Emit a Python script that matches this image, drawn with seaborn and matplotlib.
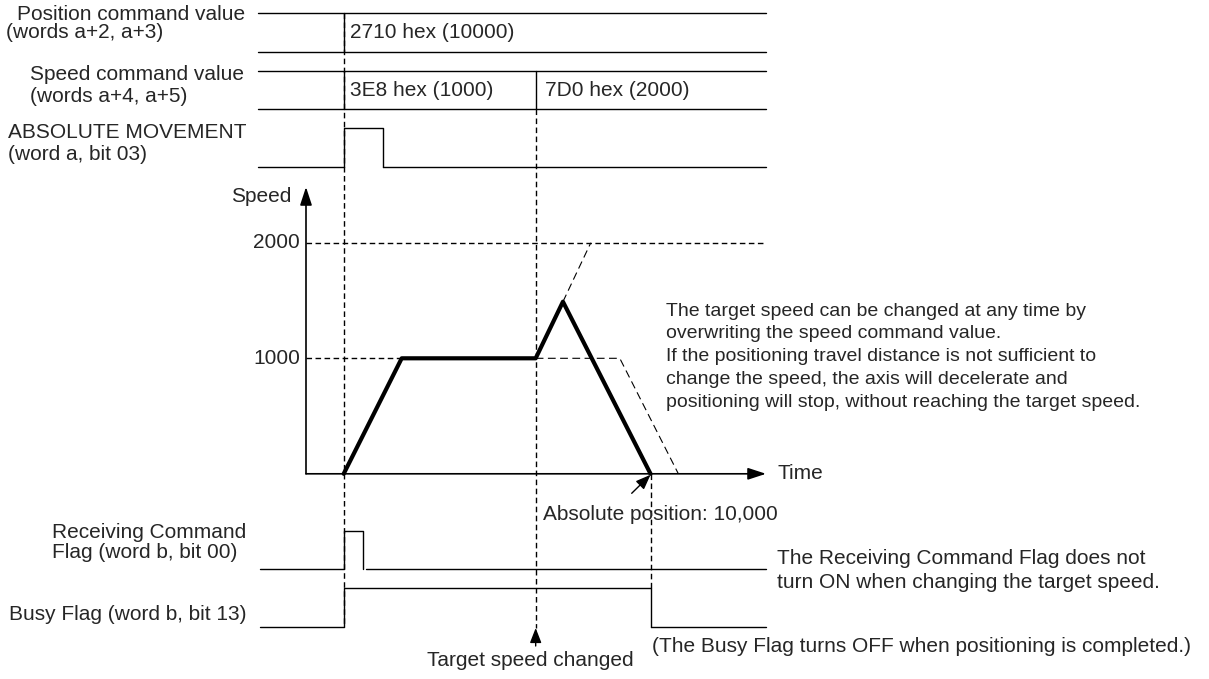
import matplotlib
matplotlib.use("Agg")
import matplotlib.pyplot as plt
import numpy as np
import pandas as pd
import seaborn as sns

# speed profile (time in accel units, speed in pulses/s)
prof_time = [0.0, 1.0, 3.31, 3.78, 5.29]
prof_speed = [0, 1000, 1000, 1490, 0]
# what would have happened: ramp on to 2000, and the plain 1000 run
ext_time = [3.78, 4.26]
ext_speed = [1490, 2000]
old_time = [3.31, 4.76, 5.77]
old_speed = [1000, 1000, 0]
speed_ticks = [1000, 2000]

t_cmd = 0.0        # ABSOLUTE MOVEMENT goes ON
t_change = 3.31    # speed command overwritten
t_done = 5.29      # positioning completed
abs_pulse = 0.67
recv_pulse = 0.34

pos_values = ["2710 hex (10000)"]
spd_values = ["3E8 hex (1000)", "7D0 hex (2000)"]

W, H = 1209, 679
PX_T = 58.0        # pixels per time unit
X0 = 343.7         # pixel of t = 0
PX_S = 115.5       # pixels per 1000 speed
Y0 = 473.8         # pixel of speed 0

sns.set_theme(style="white")
plt.rcParams['font.family'] = ['Liberation Sans', 'DejaVu Sans']

fig = plt.figure(figsize=(W / 100, H / 100), dpi=100)
xlim = (-X0 / PX_T, (W - X0) / PX_T)

# rows axis: x = time, y = pixel row
ax = fig.add_axes([0, 0, 1, 1])
ax.set_xlim(*xlim)
ax.set_ylim(H, 0)
ax.axis("off")

# speed axis: x = time, y = speed
ax_sp = fig.add_axes([0, 0, 1, 1], sharex=ax)
ax_sp.set_ylim(-(H - Y0) / PX_S * 1000, Y0 / PX_S * 1000)
ax_sp.axis("off")
ax_sp.patch.set_alpha(0)

def tx(px):
    return (px - X0) / PX_T

t_left, t_right = tx(258), tx(766)
t_axis = tx(306)
lw = 1.0
dash = (0, (4, 2.5))

# --- bus signals
for top, bot, cuts in [(13.3, 51.7, [t_cmd]), (70.7, 108.7, [t_cmd, t_change])]:
    ax.plot([t_left, t_right], [top, top], color="black", lw=lw)
    ax.plot([t_left, t_right], [bot, bot], color="black", lw=lw)
    for c in cuts:
        ax.plot([c, c], [top, bot], color="black", lw=lw)
ax.text(t_cmd + 0.11, 33, pos_values[0], fontsize=15, va="center")
ax.text(t_cmd + 0.11, 90, spd_values[0], fontsize=15, va="center")
ax.text(t_change + 0.16, 90, spd_values[1], fontsize=15, va="center")

# --- bit signals
def pulse(lo, hi, t_on, t_off, left, right, gap=0.0):
    ax.plot([left, t_on, t_on, t_off, t_off],
            [lo, lo, hi, hi, lo], color="black", lw=lw)
    ax.plot([t_off + gap, right], [lo, lo], color="black", lw=lw)

pulse(166.7, 127.7, t_cmd, t_cmd + abs_pulse, t_left, t_right)
pulse(569.3, 531.0, t_cmd, t_cmd + recv_pulse, tx(260), t_right, gap=0.04)
pulse(626.7, 588.3, t_cmd, t_done, tx(260), t_right)

# --- dashed guides
ax.plot([t_cmd, t_cmd], [13.3, 626.7], color="black", lw=lw, ls=dash, zorder=1)
ax.plot([t_change, t_change], [108.7, 628], color="black", lw=lw, ls=dash, zorder=1)
ax.plot([t_done, t_done], [Y0, 588.3], color="black", lw=lw, ls=dash, zorder=1)
ax_sp.plot([t_axis, t_right], [2000, 2000], color="black", lw=lw, ls=dash)
ax_sp.plot([t_axis, t_change], [1000, 1000], color="black", lw=lw, ls=dash)
ax_sp.plot(ext_time, ext_speed, color="black", lw=0.8, ls=(0, (7, 4)))
ax_sp.plot(old_time, old_speed, color="black", lw=0.8, ls=(0, (7, 4)))

# --- speed profile
sns.lineplot(x=prof_time, y=prof_speed, ax=ax_sp, color="black", lw=3.0,
             estimator=None, sort=False, zorder=5)

# --- speed/time axes
head = dict(arrowstyle="-|>,head_length=1.1,head_width=0.36",
            mutation_scale=10, lw=1.2, color="black", shrinkA=0, shrinkB=0)
ax_sp.annotate("", xy=(tx(766), 0), xytext=(t_axis, 0), arrowprops=head)
ax_sp.annotate("", xy=(t_axis, (Y0 - 187) / PX_S * 1000), xytext=(t_axis, 0),
               arrowprops=head)
for v in speed_ticks:
    ax_sp.text(tx(300), v, str(v), fontsize=15, ha="right", va="center")
ax.text(tx(291), 196, "Speed", fontsize=15, ha="right", va="center")
ax.text(tx(778), Y0, "Time", fontsize=15, va="center")

# --- small arrows
small = dict(arrowstyle="-|>,head_length=0.9,head_width=0.35",
             mutation_scale=10, lw=1.0, color="black", shrinkA=0, shrinkB=0)
ax.annotate("", xy=(t_done, Y0 + 1), xytext=(tx(631.7), 493.3), arrowprops=small)
ax.annotate("", xy=(t_change, 628), xytext=(t_change, 646), arrowprops=small)

# --- labels (pixel placed)
def label(x, y, s, size=15, ha="left"):
    fig.text(x / W, 1 - y / H, s, fontsize=size, ha=ha, va="center")

label(17, 14, "Position command value")
label(6, 33, "(words a+2, a+3)")
label(30, 75, "Speed command value")
label(30, 96.5, "(words a+4, a+5)")
label(8, 133, "ABSOLUTE MOVEMENT")
label(8, 155, "(word a, bit 03)")
label(52, 533, "Receiving Command")
label(52, 553, "Flag (word b, bit 00)")
label(9, 614, "Busy Flag (word b, bit 13)")
label(543, 515, "Absolute position: 10,000")
label(530, 660, "Target speed changed", ha="center")
label(777, 559, "The Receiving Command Flag does not")
label(777, 583, "turn ON when changing the target speed.")
label(652, 647, "(The Busy Flag turns OFF when positioning is completed.)")
note = ("The target speed can be changed at any time by\n"
        "overwriting the speed command value.\n"
        "If the positioning travel distance is not sufficient to\n"
        "change the speed, the axis will decelerate and\n"
        "positioning will stop, without reaching the target speed.")
fig.text(666 / W, 1 - 356.7 / H, note, fontsize=14, va="center",
         linespacing=1.45)

fig.savefig("out.png", dpi=100)
